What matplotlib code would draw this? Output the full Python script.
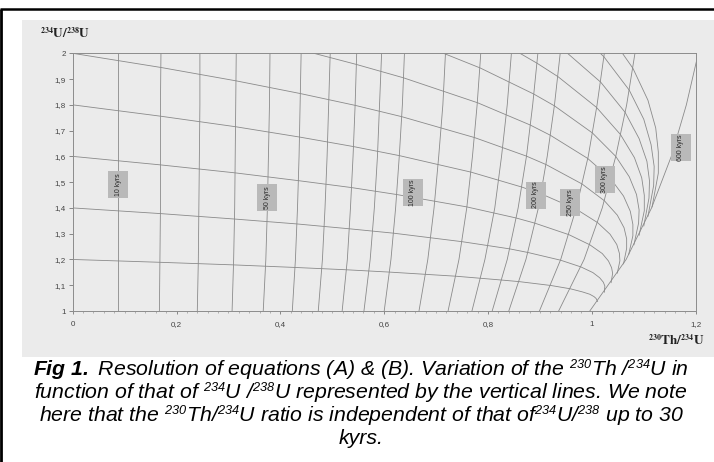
import matplotlib
matplotlib.use("Agg")
import matplotlib.pyplot as plt
from matplotlib.patches import Rectangle
from matplotlib.lines import Line2D
from matplotlib.ticker import MultipleLocator, FuncFormatter
try:
    import matplotlib._mathtext as _mt
    _mt.SHRINK_FACTOR = 0.6
except Exception:
    pass

# ---------------- data ----------------
# Isochrons (vertical lines): x = 230Th/234U at the measured 234U/238U levels
iso_y_levels = [1.0, 1.2, 1.4, 1.6, 1.8, 2.0]
iso_ages = [10, 20, 30, 40, 50, 60, 70, 80, 90, 100, 120, 140, 160, 180, 200, 250, 300, 600]
iso_x = [
    [0.088, 0.088, 0.088, 0.088, 0.088, 0.088],
    [0.167, 0.168, 0.169, 0.169, 0.169, 0.170],
    [0.240, 0.242, 0.243, 0.244, 0.245, 0.245],
    [0.307, 0.310, 0.312, 0.313, 0.314, 0.315],
    [0.367, 0.372, 0.375, 0.377, 0.379, 0.380],
    [0.423, 0.429, 0.433, 0.436, 0.438, 0.440],
    [0.473, 0.481, 0.486, 0.490, 0.493, 0.496],
    [0.519, 0.529, 0.535, 0.540, 0.544, 0.547],
    [0.561, 0.573, 0.581, 0.587, 0.591, 0.595],
    [0.600, 0.613, 0.622, 0.629, 0.635, 0.639],
    [0.667, 0.684, 0.696, 0.705, 0.713, 0.718],
    [0.723, 0.744, 0.759, 0.770, 0.779, 0.786],
    [0.769, 0.794, 0.813, 0.826, 0.837, 0.845],
    [0.808, 0.837, 0.858, 0.874, 0.886, 0.896],
    [0.840, 0.873, 0.897, 0.914, 0.928, 0.939],
    [0.899, 0.940, 0.970, 0.993, 1.010, 1.024],
    [0.936, 0.985, 1.020, 1.046, 1.067, 1.083],
    [0.996, 1.066, 1.115, 1.153, 1.182, 1.205],
]

# Evolution curves (one per initial 234U/238U ratio)
evo_initial = [1.2, 1.4, 1.6, 1.8, 2.0, 2.2, 2.4, 2.6, 2.8, 3.0, 3.2]
evo_x = [
    [0, 0.168, 0.309, 0.428, 0.527, 0.610, 0.738, 0.827, 0.860, 0.921, 0.959, 0.982, 0.996, 1.004, 1.008, 1.011],
    [0, 0.169, 0.311, 0.431, 0.533, 0.618, 0.750, 0.842, 0.877, 0.940, 0.979, 1.002, 1.015, 1.022, 1.025, 1.024],
    [0, 0.169, 0.313, 0.434, 0.537, 0.624, 0.759, 0.854, 0.890, 0.956, 0.996, 1.020, 1.032, 1.038, 1.040, 1.037],
    [0, 0.169, 0.314, 0.437, 0.541, 0.629, 0.767, 0.865, 0.902, 0.970, 1.011, 1.035, 1.048, 1.053, 1.054, 1.049],
    [0, 0.170, 0.315, 0.438, 0.544, 0.634, 0.774, 0.874, 0.912, 0.981, 1.024, 1.049, 1.062, 1.067, 1.067, 1.061],
    [0.440, 0.546, 0.637, 0.780, 0.881, 0.920, 0.992, 1.036, 1.061, 1.074, 1.079, 1.079, 1.071],
    [0.640, 0.718, 0.785, 0.888, 0.928, 1.001, 1.046, 1.072, 1.086, 1.091, 1.090, 1.081],
    [0.846, 0.894, 0.935, 1.009, 1.055, 1.082, 1.096, 1.101, 1.101, 1.091],
    [0.940, 1.017, 1.064, 1.091, 1.106, 1.111, 1.110, 1.100],
    [0.946, 1.023, 1.072, 1.100, 1.114, 1.120, 1.119, 1.108],
    [1.029, 1.079, 1.108, 1.123, 1.128, 1.128, 1.116],
]
evo_y = [
    [1.2, 1.189, 1.179, 1.169, 1.160, 1.151, 1.135, 1.120, 1.114, 1.099, 1.086, 1.074, 1.065, 1.056, 1.049, 1.037],
    [1.4, 1.378, 1.357, 1.338, 1.319, 1.302, 1.269, 1.241, 1.227, 1.197, 1.171, 1.149, 1.129, 1.112, 1.097, 1.073],
    [1.6, 1.567, 1.536, 1.506, 1.479, 1.452, 1.404, 1.361, 1.341, 1.296, 1.257, 1.223, 1.194, 1.168, 1.146, 1.110],
    [1.8, 1.756, 1.715, 1.675, 1.638, 1.603, 1.539, 1.481, 1.455, 1.395, 1.343, 1.298, 1.258, 1.224, 1.195, 1.147],
    [2.0, 1.945, 1.893, 1.844, 1.798, 1.754, 1.673, 1.601, 1.568, 1.493, 1.428, 1.372, 1.323, 1.280, 1.243, 1.183],
    [2.013, 1.957, 1.905, 1.808, 1.722, 1.682, 1.592, 1.514, 1.446, 1.387, 1.336, 1.292, 1.220],
    [2.055, 1.997, 1.943, 1.842, 1.796, 1.691, 1.600, 1.521, 1.452, 1.392, 1.341, 1.257],
    [2.018, 1.962, 1.909, 1.790, 1.685, 1.595, 1.517, 1.449, 1.389, 1.294],
    [2.023, 1.888, 1.771, 1.669, 1.581, 1.505, 1.438, 1.330],
    [2.136, 1.987, 1.857, 1.744, 1.646, 1.561, 1.487, 1.367],
    [2.086, 1.942, 1.818, 1.710, 1.617, 1.535, 1.404],
]

# Age labels
label_texts = ["10 kyrs", "50 kyrs", "100 kyrs", "200 kyrs", "250 kyrs", "300 kyrs", "600 kyrs"]

x_ticks = [0, 0.2, 0.4, 0.6, 0.8, 1.0, 1.2]
y_ticks = [1.0, 1.1, 1.2, 1.3, 1.4, 1.5, 1.6, 1.7, 1.8, 1.9, 2.0]

caption_lines = [
    r"$\mathbf{Fig\ 1.}$ Resolution of equations (A) & (B). Variation of the $^{230}$Th /$^{234}$U in",
    r"function of that of $^{234}$U /$^{238}$U represented by the vertical lines. We note",
    r"here that the $^{230}$Th/$^{234}$U ratio is independent of that of$^{234}$U/$^{238}$ up to 30",
    r"kyrs.",
]

# ---------------- styling / layout ----------------
label_pos = [(0.088, 1.492), (0.375, 1.439), (0.655, 1.459), (0.892, 1.450),
             (0.958, 1.420), (1.025, 1.510), (1.171, 1.633)]

plt.rcParams["mathtext.fontset"] = "custom"
plt.rcParams["mathtext.rm"] = "Liberation Sans:italic"
plt.rcParams["mathtext.it"] = "Liberation Sans:italic"
plt.rcParams["mathtext.bf"] = "Liberation Sans:bold:italic"
plt.rcParams["font.family"] = ["Liberation Sans", "DejaVu Sans"]

W, H = 714, 462
fig = plt.figure(figsize=(W / 100, H / 100), dpi=100)
fig.patch.set_facecolor("white")

# scanned grey background of the chart image
fig.patches.append(Rectangle((21.7 / W, 1 - 357 / H), 1 - 21.7 / W, (357 - 20) / H,
                             transform=fig.transFigure, facecolor="#ebebeb",
                             edgecolor="none", zorder=-5))
# black frame lines (left + top)
fig.add_artist(Line2D([1.3 / W, 1.3 / W], [0, 1 - 9.3 / H], transform=fig.transFigure,
                      color="black", lw=2.0, solid_capstyle="butt", zorder=5))
fig.add_artist(Line2D([0, 1], [1 - 9.3 / H, 1 - 9.3 / H], transform=fig.transFigure,
                      color="black", lw=1.8, solid_capstyle="butt", zorder=5))

ax = fig.add_axes([72.7 / W, 1 - 311 / H, (695.7 - 72.7) / W, (311 - 53.3) / H])
ax.set_zorder(1)
ax.set_facecolor("none")
ax.set_xlim(0, 1.2)
ax.set_ylim(1, 2)

line_color = "#8a8a8a"
for xs in iso_x:
    ax.plot(xs, iso_y_levels, color=line_color, lw=0.6, zorder=2)
for xs, ys in zip(evo_x, evo_y):
    ax.plot(xs, ys, color=line_color, lw=0.6, zorder=2)

bw, bh = 0.0385, 0.105
for txt, (lx, ly) in zip(label_texts, label_pos):
    ax.add_patch(Rectangle((lx - bw / 2, ly - bh / 2), bw, bh, facecolor="#b9b9b9",
                           edgecolor="none", zorder=3))
    ax.text(lx, ly, txt, rotation=90, ha="center", va="center", fontsize=5,
            color="#2a2a2a", zorder=4, family="Liberation Sans")

for s in ax.spines.values():
    s.set_color("#8c8c8c")
    s.set_linewidth(0.7)

ax.set_xticks(x_ticks)
ax.set_yticks(y_ticks)
ax.xaxis.set_minor_locator(MultipleLocator(0.02))
fmt = FuncFormatter(lambda v, p: ("%g" % round(v, 1)).replace(".", ","))
ax.xaxis.set_major_formatter(fmt)
ax.yaxis.set_major_formatter(fmt)
ax.tick_params(axis="y", which="major", direction="out", length=3, width=0.6,
               color="#777777", labelsize=5.8, labelcolor="#444444", pad=2)
ax.tick_params(axis="x", which="major", direction="out", length=2, width=0.6,
               color="#777777", labelsize=5.8, labelcolor="#444444", pad=5)
ax.tick_params(axis="x", which="minor", direction="out", length=1.2, width=0.5,
               color="#999999")

fig.text(40 / W, 1 - 34 / H, r"$\mathbf{^{234}U/^{238}U}$", math_fontfamily="stix",
         fontsize=9.5, ha="left", va="center", color="#222222")
fig.text(676 / W, 1 - 341 / H, r"$\mathbf{^{230}Th/^{234}U}$", math_fontfamily="stix",
         fontsize=9.5, ha="center", va="center", color="#222222")

line_y = [370, 393, 416, 439]
for txt, yy in zip(caption_lines, line_y):
    fig.text(361 / W, 1 - yy / H, txt, ha="center", va="center", fontsize=15.3,
             style="italic", family="Liberation Sans", color="black")

fig.savefig("out.png", dpi=100)
